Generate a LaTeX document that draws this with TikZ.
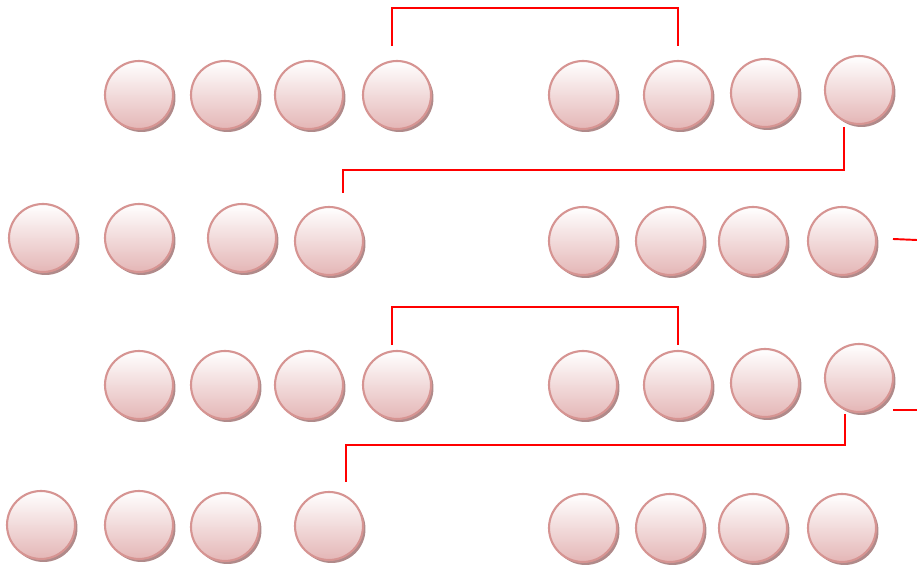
\documentclass[tikz,border=0pt]{standalone}
\usetikzlibrary{calc,shadows}
\definecolor{beadedge}{RGB}{214,148,146}
\definecolor{beadbot}{RGB}{228,182,182}
\definecolor{beadshade}{RGB}{176,138,138}
\tikzset{
    bead/.style={circle, minimum size=1.36cm, inner sep=0pt, outer sep=0pt,
        draw=beadedge, line width=1.2pt, top color=white, bottom color=beadbot,
        drop shadow={shadow xshift=0.05cm, shadow yshift=-0.06cm, fill=beadshade, opacity=1}},
    redline/.style={red, line width=1.1pt}
}
\begin{document}
\begin{tikzpicture}[x=0.02cm,y=-0.02cm]
    \useasboundingbox (0,0) rectangle (917,570);
    \foreach \n/\x/\y in {1/139/95,2/225/95,3/309/95,4/397/95,5/583/95,6/678/95,7/765/93,8/859/90}
        {\node[bead] (a\n) at (\x,\y) {};}
    \foreach \n/\x/\y in {1/43/238,2/139/238,3/242/238,4/329/241,5/583/241,6/670/241,7/753/241,8/842/241}
        {\node[bead] (b\n) at (\x,\y) {};}
    \foreach \n/\x/\y in {1/139/385,2/225/385,3/309/385,4/397/385,5/583/385,6/678/385,7/765/383,8/859/378}
        {\node[bead] (c\n) at (\x,\y) {};}
    \foreach \n/\x/\y in {1/41/525,2/139/525,3/225/527,4/329/526,5/583/528,6/670/528,7/753/528,8/842/528}
        {\node[bead] (d\n) at (\x,\y) {};}
    \coordinate (bout) at (917,240);
    \coordinate (cout) at (917,410);
    \draw[redline] ($(a4.north)+(-5,-15)$) |- ($(a6.north)+(0,-53)$) -- ($(a6.north)+(0,-15)$);
    \draw[redline] ($(a8.south)+(-15,3)$) |- ($(b4.north)+(14,-37)$) -- ($(b4.north)+(14,-14)$);
    \draw[redline] ($(b8.east)+(17,-2)$) -- (bout);
    \draw[redline] ($(c4.north)+(-5,-6)$) |- ($(c6.north)+(0,-44)$) -- ($(c6.north)+(0,-6)$);
    \draw[redline] ($(c8.east)+(0,32)$) -- (cout);
    \draw[redline] ($(c8.south)+(-14,2)$) |- ($(d4.north)+(17,-47)$) -- ($(d4.north)+(17,-10)$);
\end{tikzpicture}
\end{document}
